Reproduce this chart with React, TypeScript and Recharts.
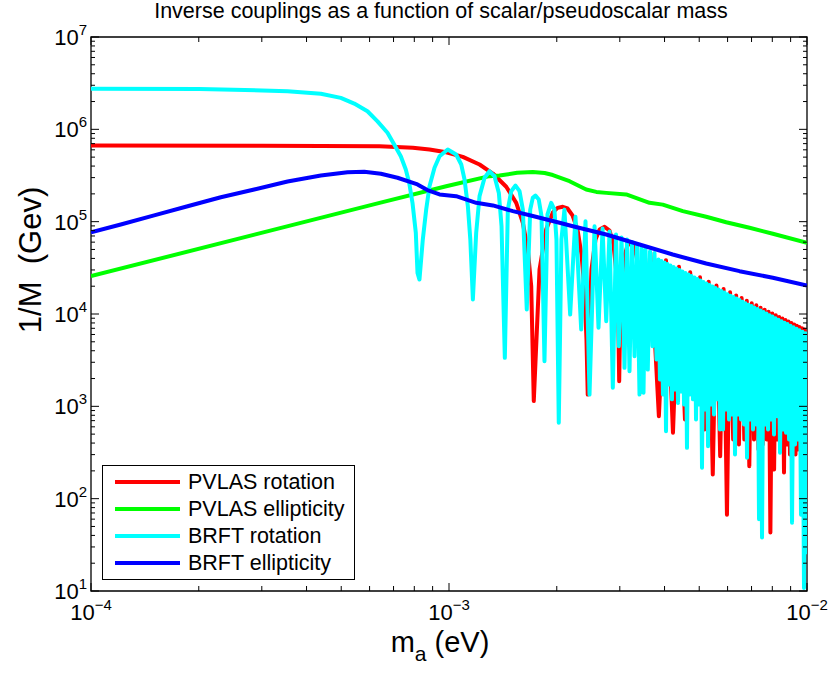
import React from 'react';
import { Label, Legend, Line, LineChart, ReferenceArea, XAxis, YAxis } from 'recharts';

// Inverse coupling 1/M (GeV) against pseudoscalar mass m_a (eV).
// Each entry is [m_a, 1/M].
const pvlasRotation: [number, number][] = [
  [1e-4, 6.68e5], [3e-4, 6.65e5], [6.4e-4, 6.57e5], [7.924e-4, 6.31e5], [8.822e-4, 6.05e5],
  [9.82e-4, 5.65e5], [1.093e-3, 5.04e5], [1.217e-3, 4.16e5], [1.326e-3, 3.32e5], [1.445e-3, 2.39e5],
  [1.541e-3, 1.6e5], [1.608e-3, 9.72e4], [1.66e-3, 4.99e4], [1.697e-3, 2.0e4], [1.725e-3, 1.14e3],
  [1.79e-3, 3.03e4], [1.868e-3, 8.23e4], [1.95e-3, 1.26e5], [2.01e-3, 1.41e5], [2.079e-3, 1.45e5],
  [2.143e-3, 1.39e5], [2.213e-3, 1.17e5], [2.285e-3, 8.23e4], [2.345e-3, 4.41e4], [2.39e-3, 1.84e4],
  [2.421e-3, 5.29e3], [2.441e-3, 1.34e3], [2.469e-3, 8.72e3], [2.5e-3, 3.03e4], [2.566e-3, 6.41e4],
  [2.634e-3, 8.23e4], [2.72e-3, 8.8e4], [2.808e-3, 8.02e4], [2.881e-3, 5.66e4], [2.937e-3, 2.68e4],
  [2.971e-3, 8.72e3], [2.988e-3, 1.87e3], [3.013e-3, 1.44e4], [3.072e-3, 3.89e4], [3.152e-3, 5.52e4],
  [3.214e-3, 5.9e4], [3.298e-3, 5.38e4], [3.373e-3, 3.43e4], [3.416e-3, 1.44e4], [3.451e-3, 1.45e3],
  [3.65e-3, 4.63e4], [3.857e-3, 782], [4.037e-3, 3.83e4], [4.223e-3, 517],
  [4.389e-3, 3.25e4], [4.562e-3, 720], [4.717e-3, 2.83e4], [4.879e-3, 1.19e3], [5.025e-3, 2.5e4],
  [5.176e-3, 561], [5.313e-3, 2.24e4], [5.455e-3, 183], [5.586e-3, 2.03e4], [5.721e-3, 288],
  [5.848e-3, 1.86e4], [5.976e-3, 67], [6.097e-3, 1.72e4], [6.22e-3, 437], [6.339e-3, 1.59e4],
  [6.454e-3, 386], [6.567e-3, 1.49e4], [6.682e-3, 437], [6.789e-3, 1.39e4], [6.9e-3, 225],
  [7.007e-3, 1.31e4], [7.112e-3, 437], [7.218e-3, 1.24e4], [7.32e-3, 341], [7.42e-3, 1.17e4],
  [7.521e-3, 386], [7.617e-3, 1.11e4], [7.716e-3, 437], [7.81e-3, 1.06e4], [7.902e-3, 43],
  [8.0e-3, 1.01e4], [8.093e-3, 207], [8.181e-3, 9.7e3], [8.272e-3, 437], [8.362e-3, 9.3e3],
  [8.449e-3, 341], [8.537e-3, 8.94e3], [8.625e-3, 192], [8.707e-3, 8.59e3], [8.791e-3, 386],
  [8.877e-3, 8.27e3], [8.963e-3, 301], [9.044e-3, 7.99e3], [9.126e-3, 341], [9.208e-3, 7.72e3],
  [9.287e-3, 301], [9.365e-3, 7.45e3], [9.443e-3, 341], [9.522e-3, 7.21e3], [9.602e-3, 437],
  [9.682e-3, 7.0e3], [9.759e-3, 341], [9.833e-3, 6.79e3], [9.904e-3, 386], [1e-2, 6.63e3],
];

const pvlasEllipticity: [number, number][] = [
  [1e-4, 2.57e4], [6.398e-4, 1.6e5], [9.82e-4, 2.42e5], [1.297e-3, 3.11e5], [1.384e-3, 3.16e5],
  [1.55e-3, 3.38e5], [1.714e-3, 3.45e5], [1.85e-3, 3.36e5], [1.95e-3, 3.2e5], [2.171e-3, 2.74e5],
  [2.417e-3, 2.23e5], [2.58e-3, 2.1e5], [2.749e-3, 2.05e5], [3.126e-3, 1.97e5], [3.632e-3, 1.6e5],
  [3.955e-3, 1.53e5], [4.499e-3, 1.3e5], [5.229e-3, 1.13e5], [5.947e-3, 9.86e4], [6.91e-3, 8.58e4],
  [8.027e-3, 7.39e4], [1e-2, 5.9e4],
];

const brftRotation: [number, number][] = [
  [1e-4, 2.75e6], [2.01e-4, 2.74e6], [3.54e-4, 2.59e6], [4.385e-4, 2.43e6], [4.986e-4, 2.19e6],
  [5.436e-4, 1.9e6], [5.919e-4, 1.57e6], [6.314e-4, 1.22e6], [6.733e-4, 9.17e5], [7.03e-4, 6.85e5],
  [7.334e-4, 5.12e5], [7.573e-4, 3.67e5], [7.74e-4, 2.64e5], [7.907e-4, 1.6e5], [8.078e-4, 7.57e4],
  [8.166e-4, 2.79e4], [8.27e-4, 2.36e4],
  [8.45e-4, 6.42e4], [8.637e-4, 1.36e5], [8.822e-4, 2.42e5], [9.11e-4, 3.83e5], [9.41e-4, 5.12e5],
  [9.92e-4, 6.05e5], [1.047e-3, 5.34e5], [1.082e-3, 4.16e5], [1.105e-3, 2.86e5], [1.129e-3, 1.47e5],
  [1.147e-3, 6.41e4], [1.166e-3, 1.44e4],
  [1.191e-3, 7.57e4], [1.217e-3, 1.89e5], [1.257e-3, 2.99e5], [1.297e-3, 3.52e5], [1.34e-3, 3.11e5],
  [1.378e-3, 2.05e5], [1.402e-3, 8.93e4], [1.432e-3, 3.35e3],
  [1.46e-3, 1.35e5], [1.492e-3, 2.14e5], [1.534e-3, 2.46e5], [1.574e-3, 2.14e5], [1.608e-3, 1.35e5],
  [1.649e-3, 1.12e4],
  [1.686e-3, 1.35e5], [1.714e-3, 1.81e5], [1.744e-3, 1.92e5], [1.781e-3, 1.74e5], [1.813e-3, 1.15e5],
  [1.848e-3, 3.08e3],
  [1.884e-3, 1.2e5], [1.93e-3, 1.6e5], [1.97e-3, 1.35e5], [1.996e-3, 6.41e4], [2.026e-3, 663],
  [2.061e-3, 6.41e4], [2.101e-3, 1.35e5],
  [2.18e-3, 9.87e3], [2.256e-3, 1.13e5], [2.34e-3, 6.79e3], [2.406e-3, 1.01e5], [2.469e-3, 1.34e3],
  [2.55e-3, 8.93e4], [2.616e-3, 7.09e3], [2.685e-3, 8.43e4], [2.749e-3, 8.35e3], [2.808e-3, 7.82e4],
  [2.868e-3, 1.59e3], [2.928e-3, 7.26e4], [2.981e-3, 4.48e3], [3.033e-3, 6.74e4], [3.092e-3, 2.61e3],
  [3.142e-3, 6.41e4], [3.193e-3, 2.4e3], [3.245e-3, 6.02e4], [3.298e-3, 3.49e3], [3.351e-3, 5.66e4],
  [3.405e-3, 1.34e3], [3.449e-3, 5.25e4], [3.494e-3, 1.4e3], [3.539e-3, 4.99e4], [3.592e-3, 2.5e3],
  [3.643e-3, 4.75e4], [3.702e-3, 4.48e3], [3.75e-3, 4.58e4], [3.798e-3, 3.21e3],
  // dense part: fringes too close to separate, so peaks on the envelope and the visible dips
  [3.846e-3, 3.89e4], [3.883e-3, 1.95e3], [3.921e-3, 3.75e4], [3.959e-3, 1.34e3],
  [3.999e-3, 3.61e4], [4.038e-3, 538], [4.076e-3, 3.48e4], [4.116e-3, 1.72e3],
  [4.156e-3, 3.35e4], [4.196e-3, 1.19e3], [4.238e-3, 3.23e4], [4.279e-3, 1.52e3],
  [4.32e-3, 3.11e4], [4.362e-3, 1.09e3], [4.405e-3, 3.0e4], [4.448e-3, 1.45e3],
  [4.49e-3, 2.88e4], [4.534e-3, 1.05e3], [4.577e-3, 2.78e4], [4.621e-3, 355],
  [4.667e-3, 2.68e4], [4.712e-3, 1.34e3], [4.757e-3, 2.58e4], [4.803e-3, 1.19e3],
  [4.851e-3, 2.48e4], [4.898e-3, 720], [4.944e-3, 2.39e4], [4.992e-3, 1.05e3],
  [5.041e-3, 2.3e4], [5.09e-3, 216], [5.139e-3, 2.22e4], [5.189e-3, 923],
  [5.24e-3, 2.14e4], [5.291e-3, 370], [5.342e-3, 2.06e4], [5.394e-3, 1.05e3],
  [5.445e-3, 1.98e4], [5.498e-3, 815], [5.552e-3, 1.91e4], [5.606e-3, 1.19e3],
  [5.66e-3, 1.84e4], [5.715e-3, 561], [5.771e-3, 1.77e4], [5.827e-3, 561],
  [5.883e-3, 1.71e4], [5.94e-3, 923], [5.997e-3, 1.64e4], [6.055e-3, 720],
  [6.114e-3, 1.58e4], [6.173e-3, 815], [6.234e-3, 1.53e4], [6.294e-3, 301],
  [6.355e-3, 1.47e4], [6.417e-3, 815], [6.48e-3, 1.42e4], [6.543e-3, 720],
  [6.605e-3, 1.36e4], [6.669e-3, 636], [6.734e-3, 1.31e4], [6.799e-3, 277],
  [6.866e-3, 1.26e4], [6.933e-3, 720], [6.998e-3, 1.22e4], [7.066e-3, 561],
  [7.135e-3, 1.17e4], [7.204e-3, 636], [7.274e-3, 1.13e4], [7.345e-3, 60],
  [7.416e-3, 1.09e4], [7.488e-3, 38], [7.561e-3, 1.05e4], [7.634e-3, 636],
  [7.708e-3, 1.01e4], [7.783e-3, 561], [7.858e-3, 9.72e3], [7.934e-3, 720],
  [8.01e-3, 9.37e3], [8.088e-3, 495], [8.166e-3, 9.02e3], [8.245e-3, 782],
  [8.326e-3, 8.69e3], [8.407e-3, 314], [8.489e-3, 8.37e3], [8.571e-3, 561],
  [8.654e-3, 8.06e3], [8.738e-3, 517], [8.822e-3, 7.77e3], [8.908e-3, 437],
  [8.995e-3, 7.48e3], [9.082e-3, 55], [9.17e-3, 7.2e3], [9.259e-3, 386],
  [9.349e-3, 6.94e3], [9.44e-3, 437], [9.53e-3, 6.68e3], [9.622e-3, 67],
  [9.714e-3, 6.44e3], [9.808e-3, 10.8], [9.904e-3, 6.2e3], [1e-2, 25],
];

const brftEllipticity: [number, number][] = [
  [1e-4, 7.69e4], [1.211e-4, 9.32e4], [1.501e-4, 1.17e5], [1.861e-4, 1.47e5], [2.305e-4, 1.84e5],
  [2.857e-4, 2.23e5], [3.54e-4, 2.72e5], [4.385e-4, 3.16e5], [5.207e-4, 3.43e5], [5.797e-4, 3.47e5],
  [6.452e-4, 3.3e5], [7.181e-4, 2.99e5], [8.166e-4, 2.53e5], [8.7e-4, 2.2e5], [9.41e-4, 1.97e5],
  [1.047e-3, 1.89e5], [1.191e-3, 1.6e5], [1.326e-3, 1.5e5], [1.508e-3, 1.3e5], [1.714e-3, 1.15e5],
  [2.036e-3, 9.72e4], [2.218e-3, 8.93e4], [2.749e-3, 7.26e4], [3.405e-3, 5.66e4], [4.217e-3, 4.41e4],
  [5.229e-3, 3.52e4], [6.48e-3, 2.91e4], [8.027e-3, 2.47e4], [1e-2, 2.03e4],
];

const X_DECADES = [1e-4, 1e-3, 1e-2];
const Y_DECADES = [1e1, 1e2, 1e3, 1e4, 1e5, 1e6, 1e7];
const MINOR_STEPS = [2, 3, 4, 5, 6, 7, 8, 9];

const SERIES = [
  { name: 'PVLAS rotation', color: '#ff0000', points: pvlasRotation },
  { name: 'PVLAS ellipticity', color: '#00ff00', points: pvlasEllipticity },
  { name: 'BRFT rotation', color: '#00ffff', points: brftRotation },
  { name: 'BRFT ellipticity', color: '#0000ff', points: brftEllipticity },
];

const WIDTH = 828;
const HEIGHT = 677;
const MARGIN = { top: 37, right: 21, bottom: 0, left: 0 };
const Y_AXIS_W = 91;
const X_AXIS_H = 86;
const PLOT_W = WIDTH - MARGIN.right - Y_AXIS_W;
const PLOT_H = HEIGHT - MARGIN.top - X_AXIS_H;
const FONT = '"Liberation Sans", Arial, Helvetica, sans-serif';

const withMinors = (decades: number[]) => [
  ...decades,
  ...decades.slice(0, -1).flatMap((d) => MINOR_STEPS.map((s) => s * d)),
];
const X_TICKS = withMinors(X_DECADES);
const Y_TICKS = withMinors(Y_DECADES);

const expOf = (v: number) => Math.round(Math.log10(v)).toString().replace('-', '\u2212');

function XTick(props: any) {
  const { x, y, payload } = props;
  const major = X_DECADES.includes(payload.value);
  const len = major ? 8 : 5;
  return (
    <g>
      <line x1={x} x2={x} y1={y} y2={y - len} stroke="#000" strokeWidth={1} />
      <line x1={x} x2={x} y1={y - PLOT_H} y2={y - PLOT_H + len} stroke="#000" strokeWidth={1} />
      {major && (
        <text x={x} y={y + 29} textAnchor="middle" fontSize={22} fontFamily={FONT} fill="#000">
          10
          <tspan dy={-10} fontSize={15}>
            {expOf(payload.value)}
          </tspan>
        </text>
      )}
    </g>
  );
}

function YTick(props: any) {
  const { x, y, payload } = props;
  const major = Y_DECADES.includes(payload.value);
  const len = major ? 8 : 4;
  return (
    <g>
      <line x1={x} x2={x + len} y1={y} y2={y} stroke="#000" strokeWidth={1} />
      <line x1={x + PLOT_W} x2={x + PLOT_W - len} y1={y} y2={y} stroke="#000" strokeWidth={1} />
      {major && (
        <text x={x - 4} y={y + 8} textAnchor="end" fontSize={22} fontFamily={FONT} fill="#000">
          10
          <tspan dy={-10} fontSize={15}>
            {expOf(payload.value)}
          </tspan>
        </text>
      )}
    </g>
  );
}

function XLabel(props: any) {
  const { viewBox } = props;
  const cx = viewBox.x + viewBox.width / 2 - 9;
  return (
    <text x={cx} y={viewBox.y + 61} textAnchor="middle" fontSize={29} fontFamily={FONT} fill="#000">
      m
      <tspan dy={9} fontSize={21}>
        a
      </tspan>
      <tspan dy={-9}> (eV)</tspan>
    </text>
  );
}

function YLabel() {
  const cx = 41;
  const cy = 260;
  return (
    <text
      x={cx}
      y={cy}
      transform={`rotate(-90 ${cx} ${cy})`}
      textAnchor="middle"
      fontSize={31}
      fontFamily={FONT}
      fill="#000"
      style={{ whiteSpace: 'pre' }}
    >
      {'1/M  (Gev)'}
    </text>
  );
}

function LegendBox() {
  return (
    <div
      style={{
        width: 253,
        height: 115,
        boxSizing: 'border-box',
        border: '1.5px solid #000',
        background: '#fff',
        padding: '3px 0 0 12px',
        fontFamily: FONT,
      }}
    >
      {SERIES.map((s) => (
        <div key={s.name} style={{ display: 'flex', alignItems: 'center', height: 26.8 }}>
          <span style={{ width: 65, height: 4, background: s.color, marginRight: 8 }} />
          <span style={{ fontSize: 21.5, lineHeight: '26px', color: '#000' }}>{s.name}</span>
        </div>
      ))}
    </div>
  );
}

export default function App() {
  return (
    <div style={{ position: 'absolute', left: 0, top: 0, width: WIDTH, height: HEIGHT, background: '#fff' }}>
      <div
        style={{
          position: 'absolute',
          left: 0,
          top: -1,
          width: 882,
          textAlign: 'center',
          fontFamily: FONT,
          fontSize: 21.5,
          color: '#000',
        }}
      >
        Inverse couplings as a function of scalar/pseudoscalar mass
      </div>
      <LineChart width={WIDTH} height={HEIGHT} margin={MARGIN}>
        <XAxis
          type="number"
          dataKey="m"
          scale="log"
          domain={[1e-4, 1e-2]}
          allowDataOverflow
          ticks={X_TICKS}
          interval={0}
          tick={(p: any) => <XTick {...p} />}
          tickLine={false}
          axisLine={false}
          tickSize={0}
          tickMargin={0}
          height={X_AXIS_H}
        >
          <Label content={(p: any) => <XLabel {...p} />} />
        </XAxis>
        <YAxis
          type="number"
          scale="log"
          domain={[10, 1e7]}
          allowDataOverflow
          ticks={Y_TICKS}
          interval={0}
          tick={(p: any) => <YTick {...p} />}
          tickLine={false}
          axisLine={false}
          tickSize={0}
          tickMargin={0}
          width={Y_AXIS_W}
        >
          <Label content={() => <YLabel />} />
        </YAxis>
        <ReferenceArea x1={1e-4} x2={1e-2} y1={10} y2={1e7} fill="none" fillOpacity={0} stroke="#000" strokeWidth={1.3} />
        {SERIES.map((s) => (
          <Line
            key={s.name}
            name={s.name}
            data={s.points.map(([m, v]) => ({ m, v }))}
            dataKey="v"
            stroke={s.color}
            strokeWidth={4}
            strokeLinejoin="round"
            dot={false}
            activeDot={false}
            isAnimationActive={false}
          />
        ))}
        <Legend
          layout="vertical"
          align="center"
          verticalAlign="middle"
          wrapperStyle={{ left: 102, top: 465, width: 253, height: 115 }}
          content={() => <LegendBox />}
        />
      </LineChart>
    </div>
  );
}
